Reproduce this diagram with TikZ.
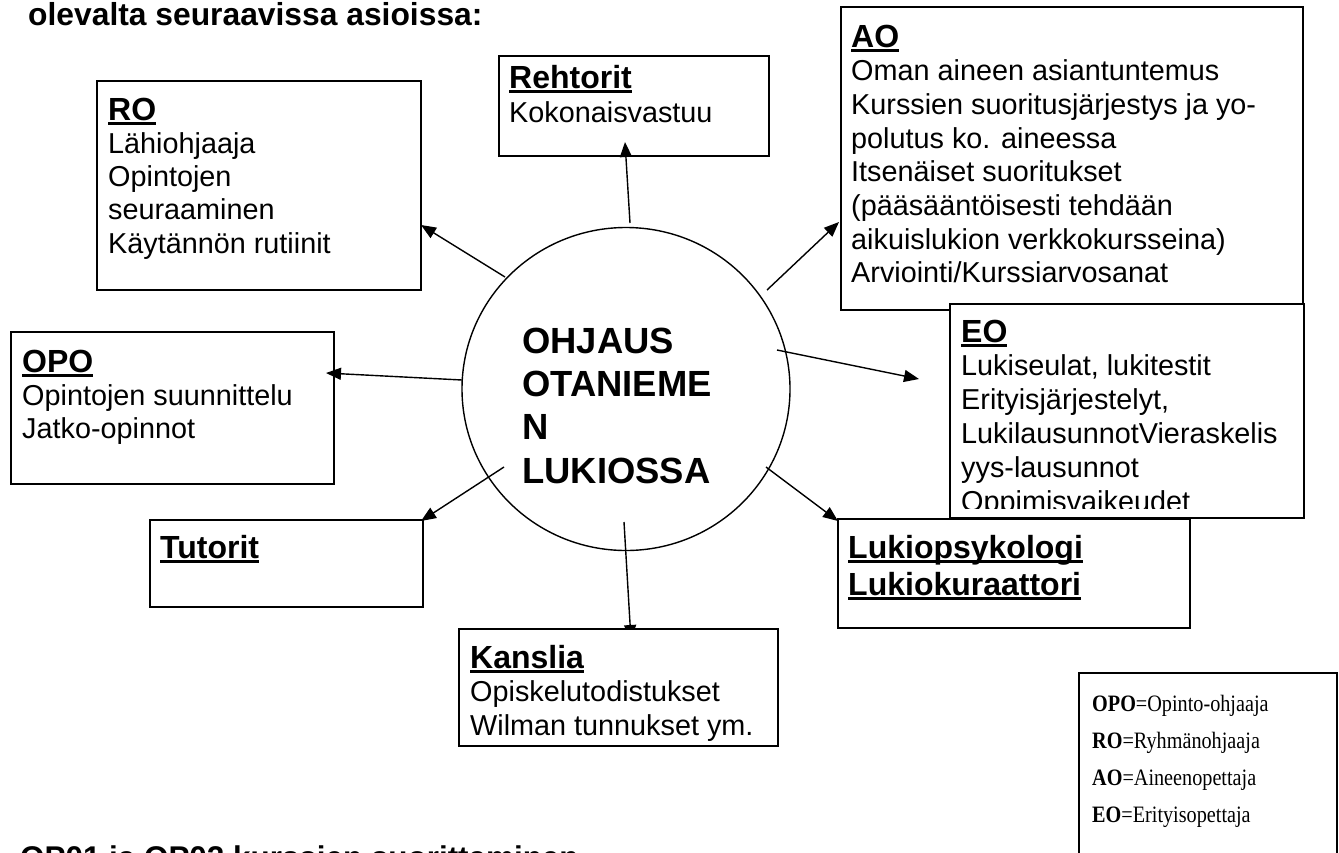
\documentclass[tikz,border=0pt]{standalone}
\usepackage{fontspec}
\setmainfont{Liberation Sans}
\newfontfamily\tnr[FakeStretch=0.86]{Liberation Serif}
\usetikzlibrary{arrows.meta,shapes.geometric}
\newcommand\hdul[1]{\setbox0\hbox{#1}\rlap{\rule[-4.5pt]{\wd0}{2.6pt}}\box0}
\newcommand\regf{\fontsize{28.8}{33.3}\selectfont}
\newcommand\hdf{\fontsize{32}{36.8}\selectfont\bfseries}
\newcommand\lgf{\tnr\fontsize{23.5}{37}\selectfont}
\begin{document}
\begin{tikzpicture}[x=1pt,y=-1pt,
  box/.style={draw, line width=1.5pt, fill=white, rectangle, anchor=north west, inner sep=0},
  txt/.style={anchor=base west, inner sep=0},
  arr/.style={line width=1.4pt, -{Triangle[length=15pt,width=12pt]}}]
\useasboundingbox (0,0) rectangle (1339,852);
\clip (0,0) rectangle (1339,852);
\fill[white] (0,0) rectangle (1339,852);

% title and footer
\node[txt] (title) at (28,25) {\fontsize{31.8}{36}\selectfont\bfseries olevalta seuraavissa asioissa:};
\node[txt] (foot) at (20,868) {\fontsize{31.4}{36}\selectfont\bfseries OP01 ja OP02 kurssien suorittaminen};

% boxes
\node[box, minimum width=324pt, minimum height=209pt] (ro) at (96,80) {};
\node[txt] (rot) at (108,120) {\vtop{\baselineskip=33.3pt
  \hbox{\hdf\hdul{RO}}\hbox{\regf Lähiohjaaja}\hbox{\regf Opintojen}\hbox{\regf seuraaminen}\hbox{\regf Käytännön rutiinit}}};

\node[box, minimum width=270pt, minimum height=100pt] (reh) at (498,55) {};
\node[txt] (reht) at (509,88) {\vtop{\baselineskip=34pt
  \hbox{\hdf\hdul{Rehtorit}}\hbox{\regf Kokonaisvastuu}}};

\node[box, minimum width=462pt, minimum height=303pt] (ao) at (840,6) {};
\node[txt] (aot) at (851,47) {\vtop{\baselineskip=33.7pt
  \hbox{\hdf\hdul{AO}}\hbox{\regf Oman aineen asiantuntemus}\hbox{\regf Kurssien suoritusjärjestys ja yo-}\hbox{\regf polutus ko. aineessa}\hbox{\regf Itsenäiset suoritukset}\hbox{\regf (pääsääntöisesti tehdään}\hbox{\regf aikuislukion verkkokursseina)}\hbox{\regf Arviointi/Kurssiarvosanat}}};

\node[box, minimum width=354pt, minimum height=214pt] (eo) at (949,303) {};
\begin{scope}
\clip (949,303) rectangle (1303,508);
\node[txt] (eot) at (961,342) {\vtop{\baselineskip=33.8pt
  \hbox{\hdf\hdul{EO}}\hbox{\regf Lukiseulat, lukitestit}\hbox{\regf Erityisjärjestelyt,}\hbox{\regf LukilausunnotVieraskelis}\hbox{\regf yys-lausunnot}\hbox{\regf Oppimisvaikeudet}}};
\end{scope}

\node[box, minimum width=323pt, minimum height=152pt] (opo) at (10,331) {};
\node[txt] (opot) at (22,372) {\vtop{\baselineskip=33pt
  \hbox{\hdf\hdul{OPO}}\hbox{\regf Opintojen suunnittelu}\hbox{\regf Jatko-opinnot}}};

\node[box, minimum width=273pt, minimum height=87pt] (tut) at (149,519) {};
\node[txt] (tutt) at (160,558) {\hdf\hdul{Tutorit}};

\node[box, minimum width=352pt, minimum height=109pt] (luk) at (837,518) {};
\node[txt] (lukt) at (848,558) {\vtop{\baselineskip=37pt
  \hbox{\hdf\hdul{Lukiopsykologi}}\hbox{\hdf\hdul{Lukiokuraattori}}}};

\node[box, minimum width=258pt, minimum height=220pt] (leg) at (1078,672) {};
\node[txt] (legt) at (1092,711) {\vtop{\baselineskip=37.3pt
  \hbox{\lgf\textbf{OPO}=Opinto-ohjaaja}\hbox{\lgf\textbf{RO}=Ryhmänohjaaja}\hbox{\lgf\textbf{AO}=Aineenopettaja}\hbox{\lgf\textbf{EO}=Erityisopettaja}}};

% centre
\node[draw, ellipse, line width=1.4pt, minimum width=328pt, minimum height=323pt, inner sep=0] (ctr) at (626,389) {};
\node[txt] (ctrt) at (522,353) {\vtop{\baselineskip=43.4pt
  \hbox{\fontsize{36.4}{42}\selectfont\bfseries OHJAUS}\hbox{\fontsize{36.4}{42}\selectfont\bfseries OTANIEME}\hbox{\fontsize{36.4}{42}\selectfont\bfseries N}\hbox{\fontsize{36.4}{42}\selectfont\bfseries LUKIOSSA}}};

% connectors
\coordinate (s1) at (505,277); \coordinate (e1) at (421,225);
\coordinate (s2) at (630,223); \coordinate (e2) at (625,142);
\coordinate (s3) at (767,290); \coordinate (e3) at (839,222);
\coordinate (s4) at (462,380); \coordinate (e4) at (326,373);
\coordinate (s5) at (777,350); \coordinate (e5) at (919,379);
\coordinate (s6) at (504,467); \coordinate (e6) at (421,521);
\coordinate (s7) at (624,522); \coordinate (e7) at (631,640);
\coordinate (s8) at (766,467); \coordinate (e8) at (838,521);
\draw[arr] (s1) -- (e1);
\draw[arr] (s2) -- (e2);
\draw[arr] (s3) -- (e3);
\draw[arr] (s4) -- (e4);
\draw[arr] (s5) -- (e5);
\draw[arr] (s6) -- (e6);
\draw[arr] (s7) -- (e7);
\draw[arr] (s8) -- (e8);

% Kanslia box over its arrow tip
\node[box, minimum width=319pt, minimum height=117pt] (kan) at (458,628) {};
\node[txt] (kant) at (470,668) {\vtop{\baselineskip=33.5pt
  \hbox{\hdf\hdul{Kanslia}}\hbox{\regf Opiskelutodistukset}\hbox{\regf Wilman tunnukset ym.}}};
\end{tikzpicture}
\end{document}
